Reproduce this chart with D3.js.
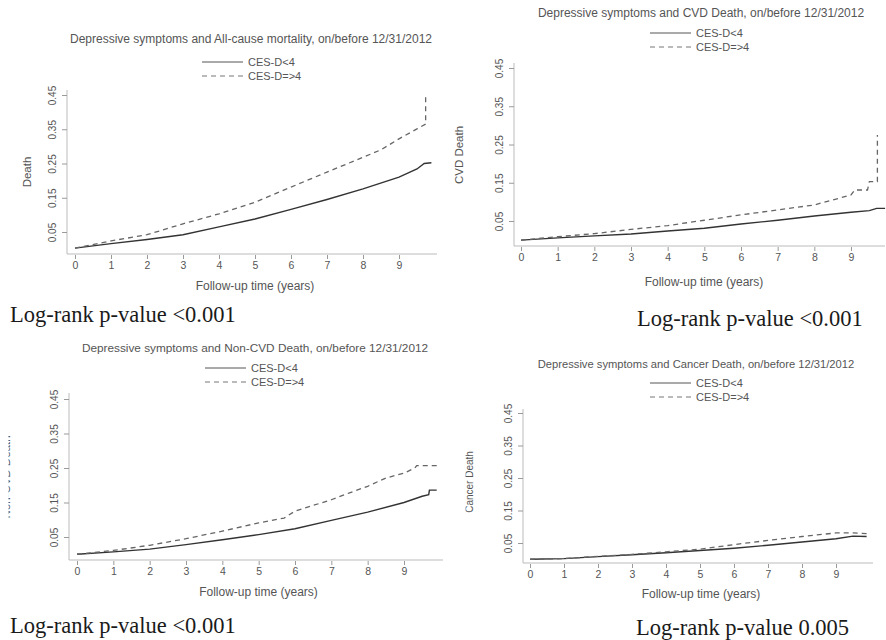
<!DOCTYPE html>
<html>
<head>
<meta charset="utf-8">
<script src="https://cdn.jsdelivr.net/npm/d3@7"></script>
<style>
  body { margin: 0; background: #fff; }
  svg { display: block; }
</style>
</head>
<body>
<svg id="chart" width="886" height="640"></svg>
<script>
// tick values
var xTicks = [0, 1, 2, 3, 4, 5, 6, 7, 8, 9];
var yTicks = [0.05, 0.15, 0.25, 0.35, 0.45];
var legendLabels = ["CES-D<4", "CES-D=>4"];

// cumulative incidence, [years, value]
var allCauseLow = [[0,0.003],[1,0.016],[2,0.028],[3,0.042],[4,0.065],[5,0.088],[6,0.116],[7,0.145],[8,0.176],[9,0.21],[9.5,0.234],[9.7,0.25],[9.9,0.252]];
var allCauseHigh = [[0,0.003],[1,0.024],[2,0.042],[3,0.074],[4,0.103],[5,0.137],[6,0.181],[7,0.225],[8,0.268],[8.5,0.29],[9,0.322],[9.5,0.351],[9.74,0.365],[9.74,0.446]];

var cvdLow = [[0,0],[1,0.006],[2,0.011],[3,0.016],[4,0.024],[5,0.031],[6,0.042],[7,0.052],[8,0.063],[9,0.073],[9.5,0.077],[9.7,0.083],[9.93,0.083]];
var cvdHigh = [[0,0],[1,0.009],[2,0.017],[3,0.028],[4,0.038],[5,0.052],[6,0.066],[7,0.079],[8,0.092],[8.5,0.105],[9,0.118],[9.1,0.131],[9.45,0.131],[9.5,0.153],[9.72,0.153],[9.72,0.275]];

var nonCvdLow = [[0,0],[1,0.007],[2,0.015],[3,0.028],[4,0.042],[5,0.057],[6,0.074],[7,0.098],[8,0.122],[9,0.15],[9.5,0.168],[9.68,0.173],[9.7,0.186],[9.9,0.186]];
var nonCvdHigh = [[0,0],[1,0.011],[2,0.026],[3,0.045],[4,0.067],[5,0.091],[5.7,0.105],[6,0.125],[7,0.158],[7.5,0.178],[8,0.197],[8.5,0.221],[9,0.235],[9.3,0.25],[9.35,0.257],[9.9,0.257]];

var cancerLow = [[0,0],[1,0.002],[2,0.008],[3,0.014],[4,0.02],[5,0.027],[6,0.034],[7,0.043],[8,0.053],[9,0.063],[9.5,0.071],[9.9,0.07]];
var cancerHigh = [[0,0],[1,0.002],[2,0.009],[3,0.015],[4,0.023],[5,0.031],[6,0.045],[7,0.058],[8,0.07],[9,0.081],[9.5,0.081],[9.9,0.079]];

var titles = [
  "Depressive symptoms and All-cause mortality, on/before 12/31/2012",
  "Depressive symptoms and CVD Death, on/before 12/31/2012",
  "Depressive symptoms and Non-CVD Death, on/before 12/31/2012",
  "Depressive symptoms and Cancer Death, on/before 12/31/2012"
];
var yLabels = ["Death", "CVD Death", "Non-CVD Death", "Cancer Death"];
var pValues = ["Log-rank p-value <0.001", "Log-rank p-value <0.001", "Log-rank p-value <0.001", "Log-rank p-value 0.005"];

// layout of each panel (pixel boxes)
var panels = [
  { low: allCauseLow, high: allCauseHigh, left: 67, top: 90, right: 437, bottom: 254,
    x0: 75, x9: 399, y05: 232, y45: 95, titleX: 251, titleY: 43, titleSize: 12, legX: 202, legY: 62,
    yLabX: 27, yLabY: 172, yLabSize: 11.5, clipX: null, xLabY: 290, pX: 10, pY: 322 },
  { low: cvdLow, high: cvdHigh, left: 514, top: 63, right: 885, bottom: 246,
    x0: 521, x9: 851, y05: 221, y45: 68, titleX: 701, titleY: 17, titleSize: 12, legX: 650, legY: 33,
    yLabX: 459, yLabY: 155, yLabSize: 11.5, clipX: null, xLabY: 286, pX: 637, pY: 326 },
  { low: nonCvdLow, high: nonCvdHigh, left: 69, top: 393, right: 443, bottom: 560,
    x0: 77, x9: 404, y05: 537, y45: 399, titleX: 255, titleY: 352, titleSize: 11.8, legX: 205, legY: 368,
    yLabX: 6, yLabY: 477, yLabSize: 11.5, clipX: 8.5, xLabY: 596, pX: 10, pY: 633 },
  { low: cancerLow, high: cancerHigh, left: 523, top: 409, right: 873, bottom: 563,
    x0: 530, x9: 836, y05: 543, y45: 413, titleX: 696, titleY: 368, titleSize: 11.2, legX: 650, legY: 383,
    yLabX: 469, yLabY: 482, yLabSize: 10, clipX: 465.5, xLabY: 598, pX: 636, pY: 635 }
];

var svg = d3.select("#chart");
var sans = "'Liberation Sans', Arial, sans-serif";
var axisCol = "#9a9a9a", textCol = "#555";
var defs = svg.append("defs");

panels.forEach(function(p, i) {
  var x = d3.scaleLinear().domain([0, 9]).range([p.x0, p.x9]);
  var y = d3.scaleLinear().domain([0.05, 0.45]).range([p.y05, p.y45]);
  var g = svg.append("g");

  // title
  g.append("text")
      .attr("x", p.titleX).attr("y", p.titleY)
      .attr("text-anchor", "middle")
      .style("font-family", sans).style("font-size", p.titleSize + "px")
      .attr("fill", textCol)
      .text(titles[i]);

  // legend
  var leg = g.append("g").attr("transform", "translate(" + p.legX + "," + p.legY + ")");
  legendLabels.forEach(function(lab, j) {
    leg.append("line")
        .attr("x1", 0).attr("x2", 41).attr("y1", j * 14).attr("y2", j * 14)
        .attr("stroke", j ? "#777" : "#555").attr("stroke-width", 1)
        .attr("stroke-dasharray", j ? "5,4" : null);
    leg.append("text")
        .attr("x", 46).attr("y", j * 14).attr("dy", "0.35em")
        .style("font-family", sans).style("font-size", "11px")
        .attr("fill", textCol)
        .text(lab);
  });

  // L-shaped frame
  g.append("path")
      .attr("d", "M" + p.left + "," + p.top + "V" + p.bottom + "H" + p.right)
      .attr("fill", "none").attr("stroke", "#bbb").attr("stroke-width", 1);

  // x axis
  var xa = g.append("g")
      .attr("transform", "translate(0," + (p.bottom + 1) + ")")
      .call(d3.axisBottom(x).tickValues(xTicks).tickSize(4).tickPadding(3));
  xa.select(".domain").remove();
  xa.selectAll("line").attr("stroke", axisCol);
  xa.selectAll("text").attr("fill", textCol).style("font-family", sans).style("font-size", "10.5px");

  // y axis with rotated labels
  var ya = g.append("g")
      .attr("transform", "translate(" + p.left + ",0)")
      .call(d3.axisLeft(y).tickValues(yTicks).tickSize(5).tickFormat(d3.format(".2f")));
  ya.select(".domain").remove();
  ya.selectAll("line").attr("stroke", axisCol);
  ya.selectAll("text")
      .attr("transform", "rotate(-90)")
      .attr("x", 0).attr("y", -11).attr("dy", 0)
      .attr("text-anchor", "middle")
      .attr("fill", textCol)
      .style("font-family", sans).style("font-size", "10px");

  // axis titles
  g.append("text")
      .attr("x", (p.x0 + p.x9) / 2 + 18).attr("y", p.xLabY)
      .attr("text-anchor", "middle")
      .style("font-family", sans).style("font-size", "12px")
      .attr("fill", textCol)
      .text("Follow-up time (years)");

  // the source image crops two of the y titles at their left edge
  var yLabHolder = g.append("g");
  if (p.clipX !== null) {
    defs.append("clipPath").attr("id", "ylab" + i)
      .append("rect").attr("x", p.clipX).attr("y", 0).attr("width", 40).attr("height", 640);
    yLabHolder.attr("clip-path", "url(#ylab" + i + ")");
  }
  yLabHolder.append("text")
      .attr("transform", "translate(" + p.yLabX + "," + p.yLabY + ") rotate(-90)")
      .attr("text-anchor", "middle").attr("dy", "0.35em")
      .style("font-family", sans).style("font-size", p.yLabSize + "px")
      .attr("fill", textCol)
      .text(yLabels[i]);

  // curves
  var line = d3.line()
      .x(function(d) { return x(d[0]); })
      .y(function(d) { return y(d[1]); });

  g.append("path")
      .datum(p.low)
      .attr("d", line)
      .attr("fill", "none").attr("stroke", "#333").attr("stroke-width", 1.4);

  g.append("path")
      .datum(p.high)
      .attr("d", line)
      .attr("fill", "none").attr("stroke", "#666").attr("stroke-width", 1.3)
      .attr("stroke-dasharray", "5,4");

  // log-rank note
  svg.append("text")
      .attr("x", p.pX).attr("y", p.pY)
      .style("font-family", "'Liberation Serif', 'Times New Roman', serif")
      .style("font-size", "22.5px")
      .attr("fill", "#1a1a1a")
      .text(pValues[i]);
});
</script>
</body>
</html>
